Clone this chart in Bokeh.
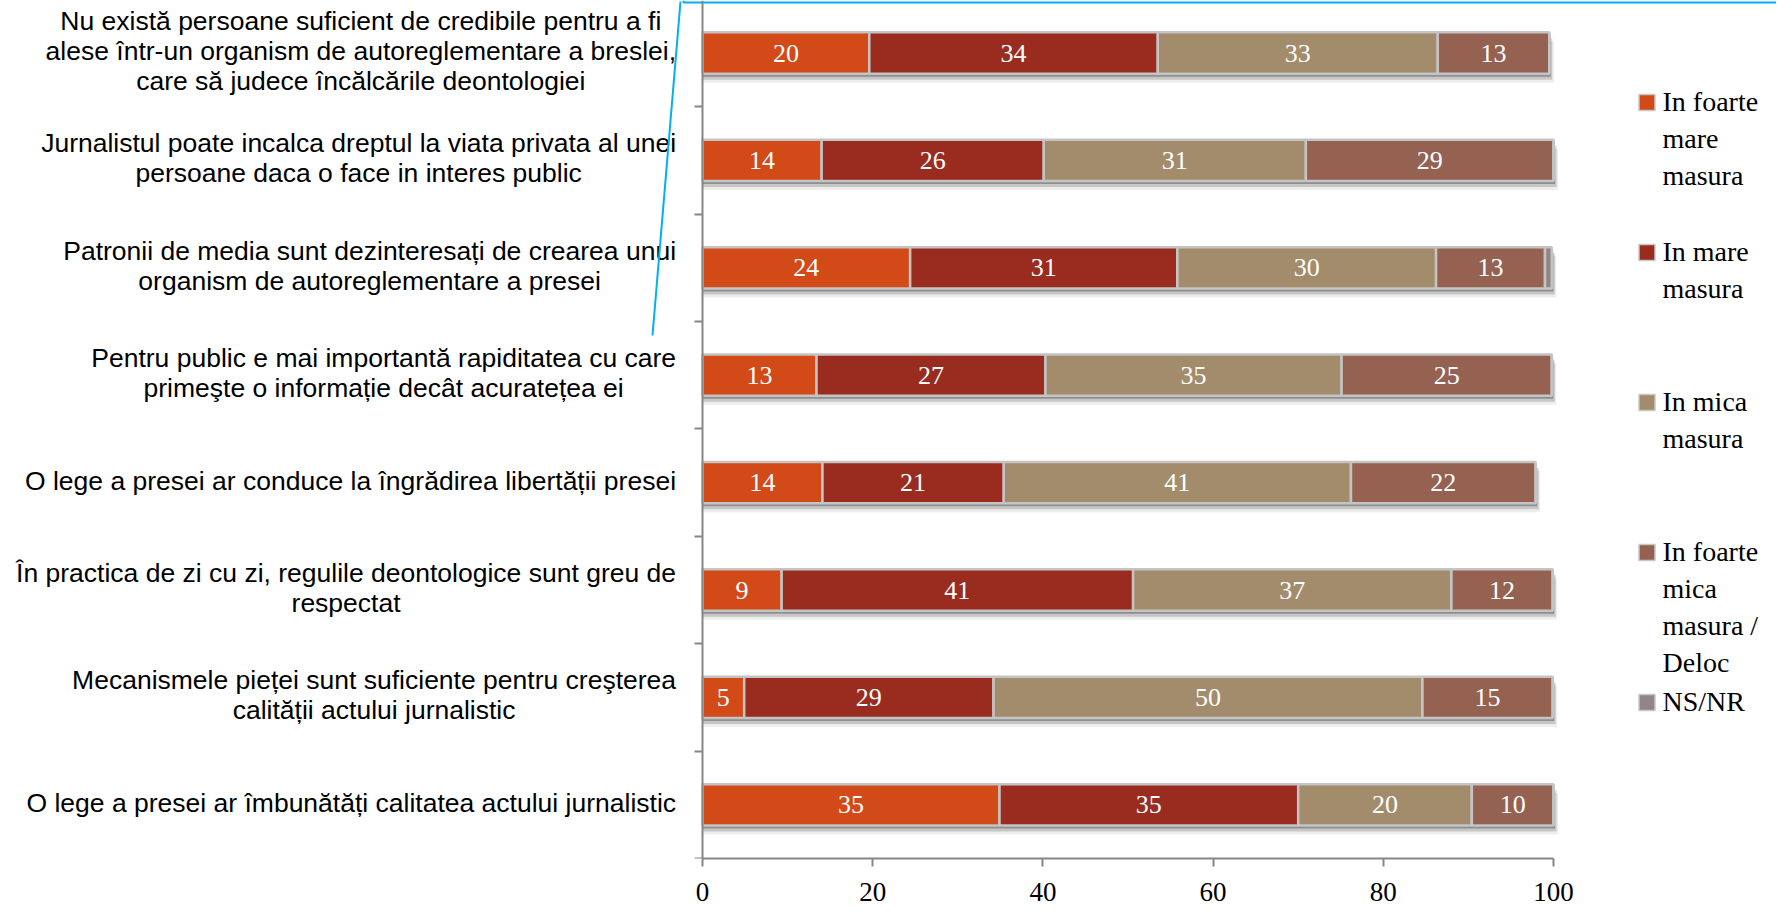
from bokeh.plotting import figure
from bokeh.models import (ColumnDataSource, Range1d, LinearAxis, FixedTicker,
                          CustomLabelingPolicy)
from bokeh.embed import file_html
from bokeh.resources import INLINE
from bokeh.core.properties import value

# ---------------- data ----------------
categories = [
    "Nu există persoane suficient de credibile pentru a fi\nalese într-un organism de autoreglementare a breslei,\ncare să judece încălcările deontologiei",
    "Jurnalistul poate incalca dreptul la viata privata al unei\npersoane daca o face in interes public",
    "Patronii de media sunt dezinteresați de crearea unui\norganism de autoreglementare a presei",
    "Pentru public e mai importantă rapiditatea cu care\nprimeşte o informație decât acuratețea ei",
    "O lege a presei ar conduce la îngrădirea libertății presei",
    "În practica de zi cu zi, regulile deontologice sunt greu de\nrespectat",
    "Mecanismele pieței sunt suficiente pentru creşterea\ncalității actului jurnalistic",
    "O lege a presei ar îmbunătăți calitatea actului jurnalistic",
]
series_names = ["In foarte\nmare\nmasura", "In mare\nmasura", "In mica\nmasura",
                "In foarte\nmica\nmasura /\nDeloc", "NS/NR"]
foarte_mare = [19.6, 14.0, 24.4, 13.4, 14.1, 9.3, 4.9, 34.9]
mare = [33.9, 26.1, 31.4, 26.9, 21.3, 41.3, 29.3, 35.1]
mica = [32.9, 30.8, 30.4, 34.8, 40.8, 37.4, 50.4, 20.4]
foarte_mica = [13.1, 29.1, 12.8, 24.7, 21.7, 11.9, 15.3, 9.6]
ns_nr = [0.0, 0.0, 0.8, 0.0, 0.0, 0.0, 0.0, 0.0]
x_ticks = [0, 20, 40, 60, 80, 100]

colors = ["#D14A18", "#9A2B1F", "#A38C6B", "#956252", "#918585"]
cols = ["foarte_mare", "mare", "mica", "foarte_mica", "ns_nr"]
series = [foarte_mare, mare, mica, foarte_mica, ns_nr]

# ---------------- layout (pixels) ----------------
W, H = 1776, 913            # figure size
FH = 858                    # frame height (frame spans whole width)
X0, PXU = 702.0, 8.51       # px of value 0, px per unit
PYU = 107.4                 # px per category band


def dx(px):
    return (px - X0) / PXU


def dy(py):
    return -0.5 + (FH - py) / PYU


n = len(categories)
ys = [n - 1 - i for i in range(n)]
BAR_H = 0.385

p = figure(x_range=Range1d(dx(0), dx(W)), y_range=Range1d(-0.5, dy(0)),
           width=W, height=H, min_border_left=0, min_border_right=0,
           min_border_top=0, min_border_bottom=H - FH,
           output_backend="svg", toolbar_location=None, y_axis_location=None,
           background_fill_color="white", border_fill_color="white")
p.outline_line_color = None
p.grid.grid_line_color = None

AXC = "#868686"
xa = p.xaxis[0]
xa.ticker = FixedTicker(ticks=x_ticks)
xa.bounds = (0, 100)
xa.axis_line_color = AXC
xa.axis_line_width = 2
xa.major_tick_line_color = AXC
xa.major_tick_line_width = 2
xa.major_tick_out = 8
xa.major_tick_in = 0
xa.minor_tick_out = 0
xa.minor_tick_in = 0
xa.major_label_text_font = "Liberation Serif"
xa.major_label_text_font_size = "27px"
xa.major_label_text_color = "#000000"
xa.major_label_standoff = 16

ya = LinearAxis(fixed_location=0,
                ticker=FixedTicker(ticks=[k - 0.5 for k in range(n)]),
                major_label_policy=CustomLabelingPolicy(
                    code="for (const i of indices) indices.unset(i)"),
                axis_line_color=AXC, axis_line_width=2,
                major_tick_line_color=AXC, major_tick_line_width=2,
                major_tick_out=8, major_tick_in=0,
                minor_tick_out=0, minor_tick_in=0)
p.add_layout(ya, "left")

# ---------------- shadows ----------------
totals = [sum(s[i] for s in series) for i in range(n)]
for off, alpha in [(3, 0.28), (6, 0.16), (9, 0.07)]:
    p.hbar(y=[y - off / PYU for y in ys], left=0,
           right=[t + (off * 0.5) / PXU for t in totals],
           height=BAR_H, fill_color="black", fill_alpha=alpha, line_color=None)

# ---------------- bars ----------------
data = {"y": ys}
for c, s in zip(cols, series):
    data[c] = s
src = ColumnDataSource(data)
p.hbar_stack(cols, y="y", height=BAR_H, color=colors, source=src,
             line_color="#c4c4c4", line_width=2.5)
for r, c in zip(p.renderers[-len(cols):], colors):
    r.glyph.fill_color = c
    r.glyph.line_color = "#c4c4c4"

# ---------------- data labels ----------------
lx, ly, lt = [], [], []
for i in range(n):
    start = 0.0
    for j, s in enumerate(series):
        v = s[i]
        if j < 4 and v > 0:
            lx.append(start + v / 2)
            ly.append(ys[i])
            lt.append(f"{v:.0f}")
        start += v
p.text(x=lx, y=ly, text=lt, text_color="white", text_align="center",
       text_baseline="middle", text_font=value("Liberation Serif"),
       text_font_size="26px")

# ---------------- category labels ----------------
ARIAL = {
    'a': 556, 'b': 556, 'c': 500, 'd': 556, 'e': 556, 'f': 278, 'g': 556, 'h': 556,
    'i': 222, 'j': 222, 'k': 500, 'l': 222, 'm': 833, 'n': 556, 'o': 556, 'p': 556,
    'q': 556, 'r': 333, 's': 500, 't': 278, 'u': 556, 'v': 500, 'w': 722, 'x': 500,
    'y': 500, 'z': 500, ' ': 278, ',': 278, '.': 278, '-': 333, '/': 278,
    'A': 667, 'B': 667, 'C': 722, 'D': 722, 'E': 667, 'F': 611, 'G': 778, 'H': 722,
    'I': 278, 'J': 500, 'K': 667, 'L': 556, 'M': 833, 'N': 722, 'O': 778, 'P': 667,
    'R': 722, 'S': 667, 'T': 611, 'U': 722, 'V': 667,
    'ă': 556, 'â': 556, 'î': 278, 'ș': 500, 'ş': 500, 'ț': 278, 'ţ': 278, 'Î': 278,
}
LAB_FS = 26.5


def text_w(s):
    return sum(ARIAL.get(ch, 556) for ch in s) * LAB_FS / 1000.0


RIGHT_EDGE = 675.5
LINE_SP = 30.0
tx, ty, tt = [], [], []
for i, cat in enumerate(categories):
    lines = cat.split("\n")
    w = max(text_w(l) for l in lines)
    cx = dx(RIGHT_EDGE - w / 2)
    m = len(lines)
    for j, l in enumerate(lines):
        tx.append(cx)
        ty.append(ys[i] - (j - (m - 1) / 2) * LINE_SP / PYU + 2.0 / PYU)
        tt.append(l)
p.text(x=tx, y=ty, text=tt, text_color="#000000", text_align="center",
       text_baseline="middle", text_font=value("Liberation Sans"),
       text_font_size=f"{LAB_FS}px")

# ---------------- legend ----------------
LEG_SQ_X = 1646.5
LEG_TX = 1662.0
LEG_Y0 = 101.0
LEG_STEP = 150.0
LEG_LS = 37.0
sqx, sqy = [], []
gx, gy, gt = [], [], []
for k, name in enumerate(series_names):
    yc = LEG_Y0 + k * LEG_STEP
    sqx.append(dx(LEG_SQ_X))
    sqy.append(dy(yc + 1))
    for j, l in enumerate(name.split("\n")):
        gx.append(dx(LEG_TX))
        gy.append(dy(yc + j * LEG_LS))
        gt.append(l)
p.rect(x=sqx, y=sqy, width=16, height=16, width_units="screen",
       height_units="screen", fill_color=colors, line_color="#c8c8c8",
       line_width=1.5)
p.text(x=gx, y=gy, text=gt, text_color="#000000", text_align="left",
       text_baseline="middle", text_font=value("Liberation Serif"),
       text_font_size="28px")

# ---------------- callout line ----------------
BLUE = "#00B0F0"
p.line(x=[dx(652), dx(680)], y=[dy(335), dy(1)], line_color=BLUE, line_width=2)
p.line(x=[dx(683), dx(683), dx(W)], y=[dy(0), dy(2), dy(2)],
       line_color=BLUE, line_width=2)

open("out.html", "w").write(file_html(p, INLINE))
